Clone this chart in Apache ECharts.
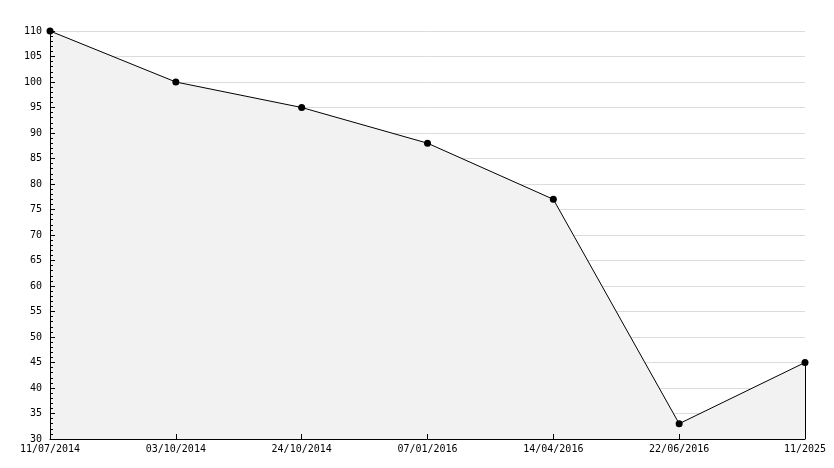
<!DOCTYPE html>
<html>
<head>
<meta charset="utf-8">
<script src="https://cdn.jsdelivr.net/npm/echarts@6/dist/echarts.min.js"></script>
<style>
  html, body { margin: 0; padding: 0; background: #fff; }
  #chart { width: 834px; height: 468px; }
</style>
</head>
<body>
<div id="chart"></div>
<script>
var categories = ['11/07/2014', '03/10/2014', '24/10/2014', '07/01/2016', '14/04/2016', '22/06/2016', '11/2025']
var values = [110, 100, 95, 88, 77, 33, 45]
var yMin = 30
var yMax = 110
var yStep = 5

var chart = echarts.init(document.getElementById('chart'))
var font = { fontFamily: 'DejaVu Sans Mono', fontSize: 10, color: '#000' }
chart.setOption({
  animation: false,
  grid: { left: 50, right: 29, top: 31, bottom: 29 },
  xAxis: {
    type: 'category',
    data: categories,
    boundaryGap: false,
    z: 5,
    axisLine: { lineStyle: { color: '#000', width: 1 } },
    axisTick: { show: true, inside: true, length: 5, lineStyle: { color: '#000' } },
    axisLabel: Object.assign({ margin: 5, interval: 0 }, font),
    splitLine: { show: false }
  },
  yAxis: [{
    // labels + grid lines, under the area
    type: 'value',
    min: yMin,
    max: yMax,
    interval: yStep,
    axisLine: { show: false },
    axisTick: { show: false },
    axisLabel: Object.assign({ margin: 8 }, font),
    splitLine: { show: true, lineStyle: { color: '#dcdcdc', width: 1 } }
  }, {
    // axis line + ticks, on top of the area
    type: 'value',
    position: 'left',
    min: yMin,
    max: yMax,
    interval: yStep,
    z: 5,
    axisLine: { show: true, lineStyle: { color: '#000', width: 1 } },
    axisTick: { show: true, inside: true, length: 5, lineStyle: { color: '#000' } },
    minorTick: { show: true, splitNumber: 5, length: 3, lineStyle: { color: '#000' } },
    axisLabel: { show: false },
    splitLine: { show: false }
  }],
  series: [{
    type: 'line',
    data: values,
    symbol: 'circle',
    symbolSize: 7,
    itemStyle: { color: '#000' },
    lineStyle: { color: '#000', width: 1 },
    areaStyle: { color: '#f2f2f2', opacity: 1 },
    markLine: {
      silent: true,
      symbol: 'none',
      label: { show: false },
      lineStyle: { color: '#000', width: 1, type: 'solid' },
      data: [[
        { coord: [categories.length - 1, yMin] },
        { coord: [categories.length - 1, values[values.length - 1]] }
      ]]
    }
  }]
})
</script>
</body>
</html>
